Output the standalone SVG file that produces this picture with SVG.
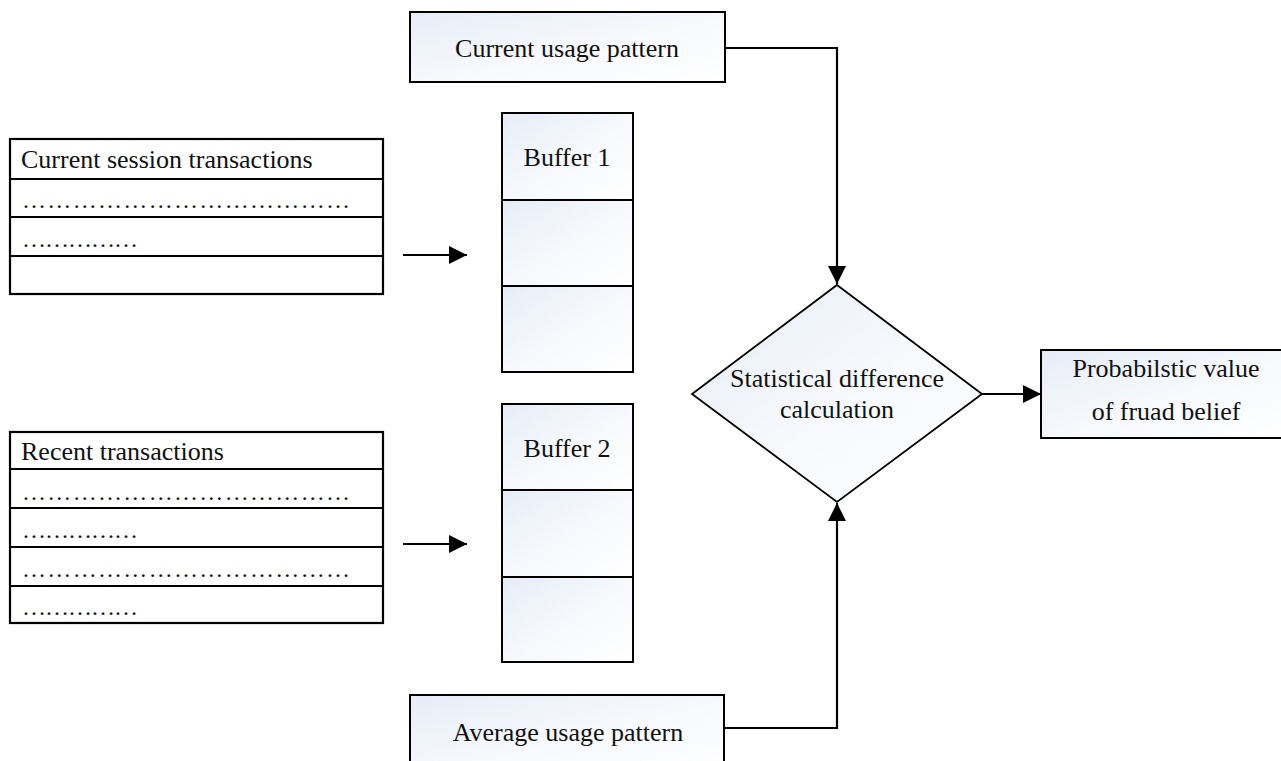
<svg xmlns="http://www.w3.org/2000/svg" width="1281" height="761" viewBox="0 0 1281 761">
  <style>
    .box { fill: url(#soft); stroke: #000; stroke-width: 2; }
    .tbl { fill: #fff; stroke: #000; stroke-width: 2.2; }
    .wire { fill: none; stroke: #000; stroke-width: 2.2; }
    text { font-family: "Liberation Serif", "Times New Roman", serif; font-size: 26px; fill: #111; }
    .mid { text-anchor: middle; }
    .dots { font-size: 24px; }
  </style>
  <defs>
    <linearGradient id="soft" x1="0" y1="0" x2="1" y2="1">
      <stop offset="0" stop-color="#e6ecf7"/>
      <stop offset="0.5" stop-color="#f6f8fc"/>
      <stop offset="1" stop-color="#ffffff"/>
    </linearGradient>
    <marker id="head" markerUnits="userSpaceOnUse" markerWidth="20" markerHeight="20" refX="18" refY="9" orient="auto">
      <path d="M0,0 L18,9 L0,18 Z" fill="#000"/>
    </marker>
  </defs>

  <rect width="1281" height="761" fill="#fff"/>

  <!-- source patterns -->
  <g id="current-usage">
    <rect class="box" x="410" y="12" width="315" height="70"/>
    <text class="mid" x="567" y="57">Current usage pattern</text>
  </g>

  <g id="average-usage">
    <rect class="box" x="410" y="695" width="314" height="80"/>
    <text class="mid" x="568" y="741">Average usage pattern</text>
  </g>

  <!-- transaction tables -->
  <g id="session-table">
    <rect class="tbl" x="10" y="139" width="373" height="155"/>
    <line class="wire" x1="10" y1="179" x2="383" y2="179"/>
    <line class="wire" x1="10" y1="217" x2="383" y2="217"/>
    <line class="wire" x1="10" y1="256" x2="383" y2="256"/>
    <text x="21" y="168">Current session transactions</text>
    <text class="dots" x="22" y="208" textLength="328" lengthAdjust="spacing">…………………………………</text>
    <text class="dots" x="22" y="247" textLength="116" lengthAdjust="spacing">……………</text>
  </g>

  <g id="recent-table">
    <rect class="tbl" x="10" y="432" width="373" height="191"/>
    <line class="wire" x1="10" y1="469" x2="383" y2="469"/>
    <line class="wire" x1="10" y1="508" x2="383" y2="508"/>
    <line class="wire" x1="10" y1="547" x2="383" y2="547"/>
    <line class="wire" x1="10" y1="586" x2="383" y2="586"/>
    <text x="21" y="460">Recent transactions</text>
    <text class="dots" x="22" y="500" textLength="328" lengthAdjust="spacing">…………………………………</text>
    <text class="dots" x="22" y="538" textLength="116" lengthAdjust="spacing">……………</text>
    <text class="dots" x="22" y="577" textLength="328" lengthAdjust="spacing">…………………………………</text>
    <text class="dots" x="22" y="615" textLength="116" lengthAdjust="spacing">……………</text>
  </g>

  <!-- buffers -->
  <g id="buffer-1">
    <rect class="box" x="502" y="113" width="131" height="87"/>
    <rect class="box" x="502" y="200" width="131" height="86"/>
    <rect class="box" x="502" y="286" width="131" height="86"/>
    <text class="mid" x="567" y="166">Buffer 1</text>
  </g>

  <g id="buffer-2">
    <rect class="box" x="502" y="404" width="131" height="86"/>
    <rect class="box" x="502" y="490" width="131" height="87"/>
    <rect class="box" x="502" y="577" width="131" height="85"/>
    <text class="mid" x="567" y="457">Buffer 2</text>
  </g>

  <!-- decision -->
  <g id="difference">
    <polygon class="box" points="837,285 982,394 837,502 692,394" style="stroke-width:1.8"/>
    <text class="mid" x="837" y="387">Statistical difference</text>
    <text class="mid" x="837" y="418">calculation</text>
  </g>

  <!-- result -->
  <g id="fraud-belief">
    <rect class="box" x="1041" y="350" width="250" height="88"/>
    <text class="mid" x="1166" y="377">Probabilstic value</text>
    <text class="mid" x="1166" y="420">of fruad belief</text>
  </g>

  <!-- connectors -->
  <g id="connectors">
    <line class="wire" x1="403" y1="255" x2="467" y2="255" marker-end="url(#head)"/>
    <line class="wire" x1="403" y1="544" x2="467" y2="544" marker-end="url(#head)"/>
    <polyline class="wire" points="725,48 837,48 837,284" marker-end="url(#head)"/>
    <polyline class="wire" points="724,728 837,728 837,503" marker-end="url(#head)"/>
    <line class="wire" x1="982" y1="394" x2="1041" y2="394" marker-end="url(#head)"/>
  </g>
</svg>
